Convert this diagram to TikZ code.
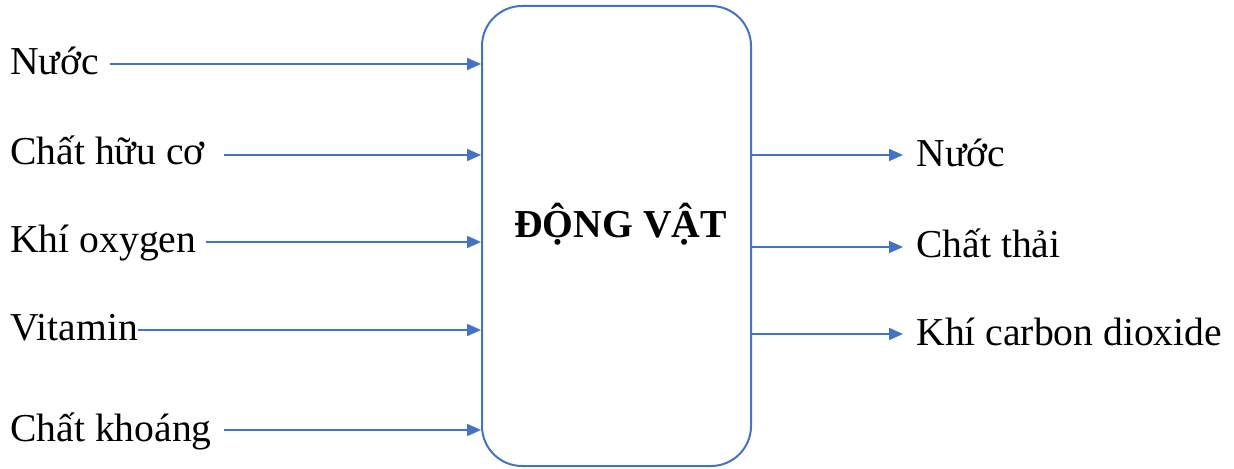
\documentclass[tikz,border=0pt]{standalone}
\usepackage{fontspec}
\setmainfont{Liberation Serif}
\usetikzlibrary{arrows.meta}
\definecolor{flow}{HTML}{4472C4}
\begin{document}
\begin{tikzpicture}[x=0.5pt,y=-0.5pt,
  label/.style={inner sep=0pt,font=\fontsize{19.8}{24}\selectfont},
  flowarrow/.style={draw=flow,line width=1pt,-{Triangle[length=7pt,width=6pt]}},
  organism/.style={draw=flow,line width=1pt,rounded corners=20pt,
    minimum width=134.5pt,minimum height=230pt,inner sep=0pt}]
\useasboundingbox (0,0) rectangle (1234,469);
% central box
\node[organism] (box) at (616.5,236) {};
\node[label,anchor=base,font=\fontsize{19.8}{24}\selectfont\bfseries] (title) at (620.5,238) {ĐỘNG VẬT};
% inputs
\node[label,anchor=base west] (in1) at (10,75) {Nước};
\node[label,anchor=base west] (in2) at (10,165) {Chất hữu cơ};
\node[label,anchor=base west] (in3) at (10,253) {Khí oxygen};
\node[label,anchor=base west] (in4) at (10,341) {Vitamin};
\node[label,anchor=base west] (in5) at (10,441) {Chất khoáng};
\coordinate (s1) at (110,64);
\coordinate (s2) at (224,155);
\coordinate (s3) at (206,242);
\coordinate (s4) at (138,330);
\coordinate (s5) at (224,430);
\foreach \i in {1,...,5}{
  \draw[flowarrow] (s\i) -- (box.west |- s\i);
}
% outputs
\coordinate (t1) at (903,155);
\coordinate (t2) at (903,247);
\coordinate (t3) at (903,334);
\node[label,anchor=base west] (out1) at (916,167) {Nước};
\node[label,anchor=base west] (out2) at (916,258) {Chất thải};
\node[label,anchor=base west] (out3) at (916,346) {Khí carbon dioxide};
\foreach \i in {1,2,3}{
  \draw[flowarrow] (box.east |- t\i) -- (t\i);
}
\end{tikzpicture}
\end{document}
